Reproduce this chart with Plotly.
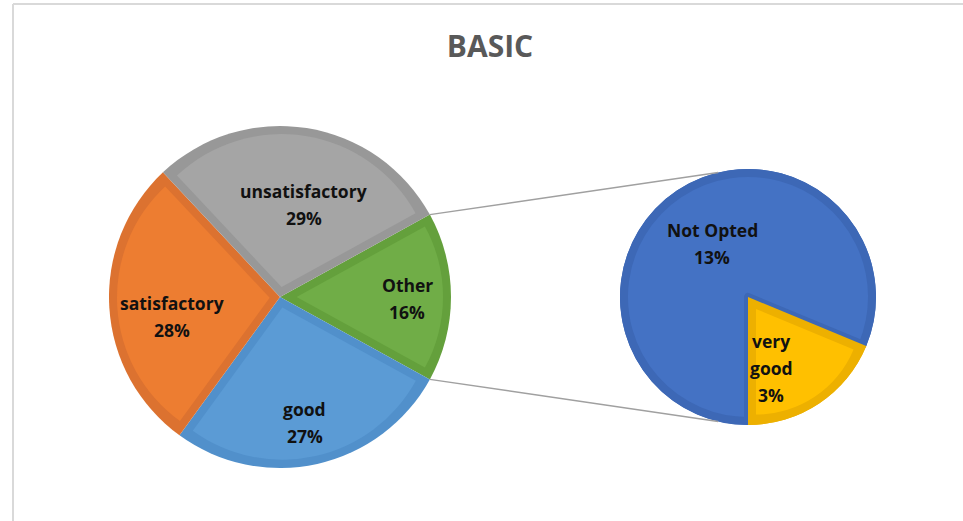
import math
import plotly.graph_objects as go

# ---------------- data ----------------
title_text = "BASIC"
main_labels = ["Other", "good", "satisfactory", "unsatisfactory"]
main_values = [16, 27, 28, 29]
sec_labels = ["very good", "Not Opted"]
sec_values = [3, 13]

# ---------------- styles ----------------
main_fill = ["#70AD47", "#5B9BD5", "#ED7D31", "#A5A5A5"]
main_edge = ["#64A03C", "#5190CB", "#DC7230", "#989898"]
sec_fill = ["#FFC000", "#4472C4"]
sec_edge = ["#EDB000", "#3D68B6"]
CLEAR = "rgba(0,0,0,0)"
TEXT_COLOR = "#111111"
FONT = "Open Sans"

W, H = 963, 521
MAIN_C, MAIN_R = (280, 297), 171
SEC_C, SEC_R = (748, 297), 128
BAND = 8
LINE_GAP = 27

main_total = sum(main_values)
other_share = main_values[0] / main_total
main_rot = 90 - 180 * other_share
sec_total = sum(sec_values)
sec_rot = 180 - 360 * sec_values[0] / sec_total


def dom(c, h):
    cx, cy = c
    return dict(x=[(cx - h) / W, (cx + h) / W], y=[1 - (cy + h) / H, 1 - (cy - h) / H])


fig = go.Figure()


def add_pie(labels, values, colors, c, h, rotation, pull=0,
            line_colors=CLEAR, line_width=0):
    fig.add_trace(go.Pie(
        labels=labels, values=values, sort=False, direction="clockwise",
        rotation=rotation, domain=dom(c, h), pull=pull,
        marker=dict(colors=colors, line=dict(color=line_colors, width=line_width)),
        textinfo="none", hoverinfo="skip", showlegend=False,
    ))


def inset(values, i, R):
    alpha = math.pi * values[i] / sum(values)
    d = BAND / math.sin(alpha)
    rb = R - BAND - d
    p = d / rb
    return p, rb * (1 + p)


# main pie: border layer then inset fill layers
add_pie(main_labels, main_values, main_edge, MAIN_C, MAIN_R, main_rot)
for i in range(len(main_values)):
    p, h = inset(main_values, i, MAIN_R)
    add_pie(main_labels, main_values,
            [main_fill[j] if j == i else CLEAR for j in range(len(main_values))],
            MAIN_C, h, main_rot,
            pull=[p if j == i else 0 for j in range(len(main_values))])

# secondary pie
add_pie(sec_labels, sec_values, sec_edge, SEC_C, SEC_R, sec_rot)
add_pie(sec_labels, sec_values, [CLEAR, sec_fill[1]], SEC_C, SEC_R - BAND / 2,
        sec_rot, line_colors=[CLEAR, sec_edge[1]], line_width=[0, BAND])
add_pie(sec_labels, sec_values, [sec_edge[0], CLEAR], SEC_C, SEC_R, sec_rot)
p, h = inset(sec_values, 0, SEC_R)
add_pie(sec_labels, sec_values, [sec_fill[0], CLEAR], SEC_C, h, sec_rot, pull=[p, 0])


# ---------------- labels ----------------
def bisectors(values, rotation):
    tot = sum(values)
    out, acc = [], rotation
    for v in values:
        out.append(acc + 180 * v / tot)
        acc += 360 * v / tot
    return out


annotations = []


def put_label(lines, c, R, ang, frac):
    cx, cy = c
    a = math.radians(ang)
    x = cx + frac * R * math.sin(a)
    y = cy - frac * R * math.cos(a)
    n = len(lines)
    for k, t in enumerate(lines):
        yy = y + (k - (n - 1) / 2) * LINE_GAP
        annotations.append(dict(
            x=x / W, y=1 - yy / H, xref="paper", yref="paper", text=t,
            showarrow=False, xanchor="center", yanchor="middle",
            font=dict(family=FONT, size=17.5, color=TEXT_COLOR, weight=700)))


main_frac = [0.743, 0.75, 0.641, 0.556]
main_nudge = [0.9, 1.4, -6.4, 5.6]
for lab, v, b, f, n in zip(main_labels, main_values,
                           bisectors(main_values, main_rot), main_frac, main_nudge):
    put_label([lab, f"{round(100 * v / main_total)}%"], MAIN_C, MAIN_R, b + n, f)

sec_frac = [0.583, 0.50]
sec_nudge = [15.7, 0]
sec_lines = [["very", "good"], ["Not Opted"]]
for ln, v, b, f, n in zip(sec_lines, sec_values,
                          bisectors(sec_values, sec_rot), sec_frac, sec_nudge):
    put_label(ln + [f"{round(100 * v / main_total)}%"], SEC_C, SEC_R, b + n, f)

# ---------------- connector lines & frame ----------------
shapes = []


def pt(c, R, ang):
    a = math.radians(ang)
    return c[0] + R * math.sin(a), c[1] - R * math.cos(a)


CONN_ANG = 13.5
for a_main, a_sec in [(main_rot, -CONN_ANG),
                      (main_rot + 360 * other_share, 180 + CONN_ANG)]:
    x0, y0 = pt(MAIN_C, MAIN_R, a_main)
    x1, y1 = pt(SEC_C, SEC_R, a_sec)
    shapes.append(dict(type="line", xref="paper", yref="paper",
                       x0=x0 / W, y0=1 - y0 / H, x1=x1 / W, y1=1 - y1 / H,
                       line=dict(color="#A0A0A0", width=1.5)))

FRAME_X, FRAME_Y = 13, 4
shapes.append(dict(type="line", xref="paper", yref="paper",
                   x0=FRAME_X / W, y0=1 - FRAME_Y / H, x1=1, y1=1 - FRAME_Y / H,
                   line=dict(color="#D9D9D9", width=2)))
shapes.append(dict(type="line", xref="paper", yref="paper",
                   x0=FRAME_X / W, y0=1 - FRAME_Y / H, x1=FRAME_X / W, y1=0,
                   line=dict(color="#D9D9D9", width=2)))

fig.update_layout(
    width=W, height=H,
    margin=dict(l=0, r=0, t=0, b=0),
    paper_bgcolor="white", plot_bgcolor="white",
    title=dict(text=title_text, x=490 / W, xanchor="center",
               y=1 - 46 / H, yanchor="middle",
               font=dict(family=FONT, size=30, color="#595959", weight=700)),
    annotations=annotations,
    shapes=shapes,
)

fig.write_html("out.html",
               config={"displayModeBar": False},
               post_script="document.body.style.margin='0px';document.body.style.overflow='hidden';")
